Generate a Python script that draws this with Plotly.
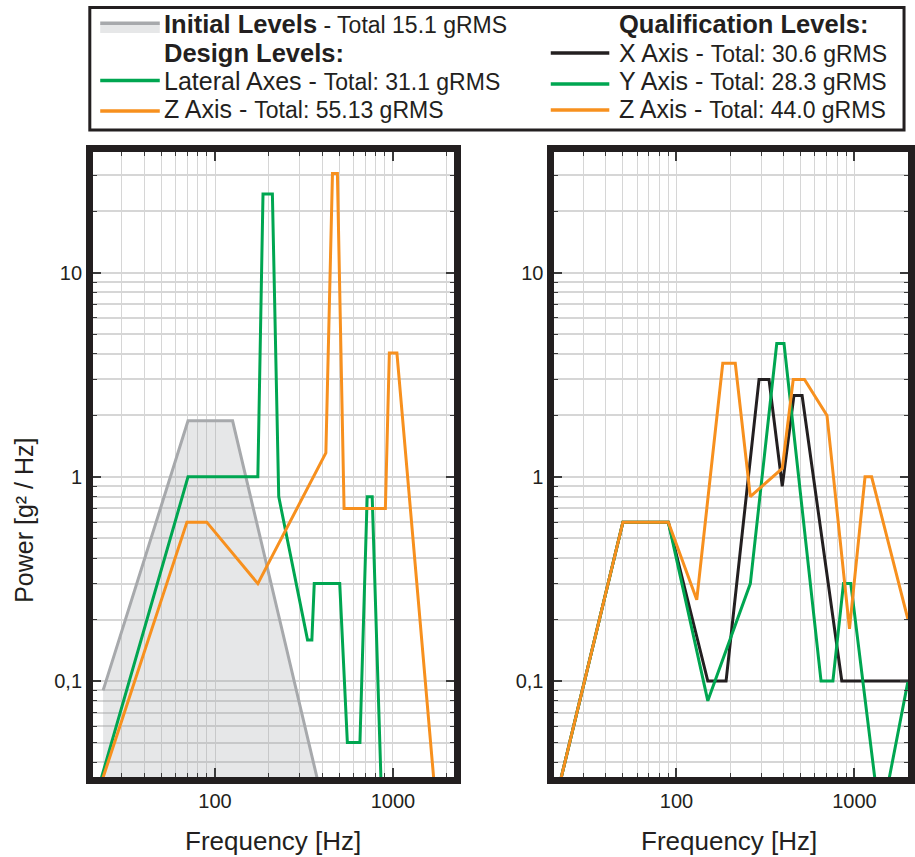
import plotly.graph_objects as go

# ---------------- data ----------------
initial_f = [23.5, 70.5, 125.5, 2000]
initial_p = [0.09, 1.88, 1.88, 0.00007]

design_lat_f = [20, 70.5, 174, 186, 210, 228, 331, 350, 361, 502, 554, 652, 716, 764, 880]
design_lat_p = [0.022, 1.0, 1.0, 24.3, 24.3, 0.8, 0.159, 0.159, 0.3, 0.3, 0.05, 0.05, 0.8, 0.8, 0.015]

design_z_f = [20, 69.5, 89.8, 174, 419.5, 457, 487, 531, 906, 954, 1052, 1800]
design_z_p = [0.022, 0.6, 0.6, 0.3, 1.31, 30.6, 30.6, 0.7, 0.7, 4.04, 4.04, 0.018]

qual_x_f = [20, 50, 90, 150, 190, 291, 331, 393, 457, 508, 849, 2000]
qual_x_p = [0.022, 0.6, 0.6, 0.1, 0.1, 3.0, 3.0, 0.9, 2.5, 2.5, 0.1, 0.1]

qual_y_f = [20, 50, 90, 150, 260, 366, 402, 649, 757, 868, 954, 1400, 2000]
qual_y_p = [0.022, 0.6, 0.6, 0.08, 0.3, 4.5, 4.5, 0.1, 0.1, 0.3, 0.3, 0.02, 0.1]

qual_z_f = [20, 50, 90, 130, 182, 214, 260, 393, 453, 524, 701, 938, 1147, 1249, 2000]
qual_z_p = [0.022, 0.6, 0.6, 0.25, 3.6, 3.6, 0.8, 1.1, 3.0, 3.0, 2.0, 0.18, 1.0, 1.0, 0.2]

x_tick_vals = [100, 1000]
x_tick_text = ["100", "1000"]
y_tick_vals = [0.1, 1, 10]
y_tick_text = ["0,1", "1", "10"]

legend_left = [
    ("<b>Initial Levels</b><span style='font-size:23px'> - Total 15.1 gRMS</span>"),
    ("<b>Design Levels:</b>"),
    ("Lateral Axes - <span style='font-size:23px'>Total: 31.1 gRMS</span>"),
    ("Z Axis - <span style='font-size:23px'>Total: 55.13 gRMS</span>"),
]
legend_right = [
    ("<b>Qualification Levels:</b>"),
    ("X Axis - <span style='font-size:23px'>Total: 30.6 gRMS</span>"),
    ("Y Axis - <span style='font-size:23px'>Total: 28.3 gRMS</span>"),
    ("Z Axis - <span style='font-size:23px'>Total: 44.0 gRMS</span>"),
]

# ---------------- style ----------------
W, H = 915, 857
FONT = "Liberation Sans, Arial, Helvetica, sans-serif"
INK = "#231f20"
GREEN = "#00a651"
ORANGE = "#f7901e"
BLACK = "#231f20"
GRAY = "#a7a9ac"
FILL = "rgba(150,155,160,0.24)"
GRID = "#d6d6d6"


def px(x):
    return x / W


def py(y):
    return 1 - y / H


fig = go.Figure()

# left panel
fig.add_trace(go.Scatter(x=initial_f, y=initial_p, mode="lines", fill="tozeroy",
                         fillcolor=FILL, line=dict(color=GRAY, width=3),
                         xaxis="x", yaxis="y", showlegend=False))
fig.add_trace(go.Scatter(x=design_lat_f, y=design_lat_p, mode="lines",
                         line=dict(color=GREEN, width=3), xaxis="x", yaxis="y", showlegend=False))
fig.add_trace(go.Scatter(x=design_z_f, y=design_z_p, mode="lines",
                         line=dict(color=ORANGE, width=3), xaxis="x", yaxis="y", showlegend=False))

# right panel
fig.add_trace(go.Scatter(x=qual_x_f, y=qual_x_p, mode="lines",
                         line=dict(color=BLACK, width=3), xaxis="x2", yaxis="y2", showlegend=False))
fig.add_trace(go.Scatter(x=qual_y_f, y=qual_y_p, mode="lines",
                         line=dict(color=GREEN, width=3), xaxis="x2", yaxis="y2", showlegend=False))
fig.add_trace(go.Scatter(x=qual_z_f, y=qual_z_p, mode="lines",
                         line=dict(color=ORANGE, width=3), xaxis="x2", yaxis="y2", showlegend=False))

minor_x = [d * 10 ** e for e in (1, 2, 3) for d in range(2, 10)]
minor_y = [d * 10 ** e for e in (-2, -1, 0, 1) for d in range(2, 10)]

common_x = dict(type="log", tickmode="array", tickvals=x_tick_vals, ticktext=x_tick_text,
                ticks="inside", ticklen=9, tickwidth=1.5, tickcolor="#3a3a3a",
                showline=True, linewidth=6.5, linecolor=INK, mirror="ticks",
                showgrid=True, gridcolor=GRID, gridwidth=1.2, zeroline=False,
                tickfont=dict(family=FONT, size=20, color=INK),
                minor=dict(tickmode="array", tickvals=minor_x, ticks="inside", ticklen=4,
                           tickwidth=1.3, tickcolor="#3a3a3a", showgrid=True,
                           gridcolor=GRID, gridwidth=1.2))
common_y = dict(type="log", tickmode="array", tickvals=y_tick_vals, ticktext=y_tick_text,
                ticks="inside", ticklen=8, tickwidth=1.5, tickcolor="#3a3a3a",
                showline=True, linewidth=6.5, linecolor=INK, mirror="ticks",
                showgrid=True, gridcolor=GRID, gridwidth=1.8, zeroline=False,
                range=[-1.470, 1.591],
                tickfont=dict(family=FONT, size=20, color=INK),
                minor=dict(tickmode="array", tickvals=minor_y, ticks="inside", ticklen=4,
                           tickwidth=1.3, tickcolor="#3a3a3a", showgrid=True,
                           gridcolor=GRID, gridwidth=1.8))

ydom = [py(777), py(152)]
fig.update_layout(
    xaxis=dict(common_x, domain=[px(93.5), px(457)], range=[1.313, 3.340], anchor="y"),
    yaxis=dict(common_y, domain=ydom, anchor="x"),
    xaxis2=dict(common_x, domain=[px(558.5), 1.0], range=[1.313, 3.301], anchor="y2"),
    yaxis2=dict(common_y, domain=ydom, anchor="x2"),
)

annotations = []
shapes = []

# axis titles
for cx in (275, 735):
    annotations.append(dict(x=px(cx), y=py(841), xref="paper", yref="paper",
                            text="Frequency [Hz]", showarrow=False, xanchor="center",
                            yanchor="middle", font=dict(family=FONT, size=26, color=INK)))
annotations.append(dict(x=px(24), y=py(520), xref="paper", yref="paper",
                        text="Power [g² / Hz]", showarrow=False, textangle=-90,
                        xanchor="center", yanchor="middle",
                        font=dict(family=FONT, size=25, color=INK)))

# legend box
shapes.append(dict(type="rect", xref="paper", yref="paper", x0=px(90.5), x1=px(911),
                   y0=py(130), y1=py(7.5), line=dict(color=INK, width=3)))

rows_mid = [24.3, 53.3, 81.3, 109.3]
for i, (txt, ym) in enumerate(zip(legend_left, rows_mid)):
    annotations.append(dict(x=px(163), y=py(ym), xref="paper", yref="paper", text=txt,
                            showarrow=False, xanchor="left", yanchor="middle",
                            font=dict(family=FONT, size=25.5 if i < 2 else 25, color=INK)))
for i, (txt, ym) in enumerate(zip(legend_right, rows_mid)):
    annotations.append(dict(x=px(622), y=py(ym), xref="paper", yref="paper", text=txt,
                            showarrow=False, xanchor="left", yanchor="middle",
                            font=dict(family=FONT, size=25.5 if i < 1 else 25, color=INK)))

# legend samples
shapes.append(dict(type="rect", xref="paper", yref="paper", x0=px(101), x1=px(161),
                   y0=py(33), y1=py(24), fillcolor="#e6e7e8", line=dict(width=0)))
for (x0, x1, yy, col) in [(101, 161, 23.3, GRAY), (101, 161, 80.5, GREEN),
                          (101, 161, 111, ORANGE), (555, 614, 53, BLACK),
                          (555, 614, 84, GREEN), (555, 614, 110, ORANGE)]:
    shapes.append(dict(type="line", xref="paper", yref="paper", x0=px(x0), x1=px(x1),
                       y0=py(yy), y1=py(yy), line=dict(color=col, width=3.5)))

fig.update_layout(
    width=W, height=H, margin=dict(l=0, r=0, t=0, b=0),
    paper_bgcolor="white", plot_bgcolor="white",
    annotations=annotations, shapes=shapes, showlegend=False,
    font=dict(family=FONT, color=INK),
)

fig.write_html("out.html", config={"displayModeBar": False})
